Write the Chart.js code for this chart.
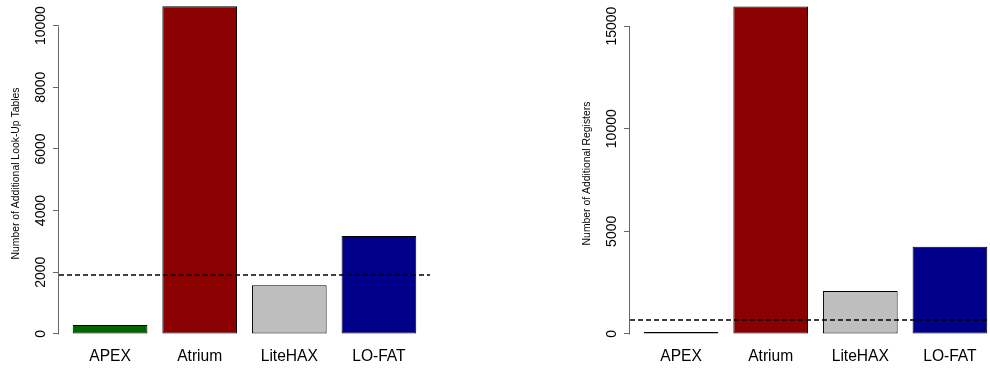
<!DOCTYPE html>
<html><head><meta charset="utf-8">
<script src="https://cdn.jsdelivr.net/npm/chart.js@4.4.0/dist/chart.umd.min.js"></script>
<style>
html,body{margin:0;padding:0;background:#fff;overflow:hidden;width:990px;height:368px;}
#wrap{position:relative;width:990px;height:368px;overflow:hidden;background:#fff;}
.box{position:absolute;top:0;width:495px;height:368px;}
canvas{display:block;}
</style></head><body>
<div id="wrap">
<div class="box" style="left:0"><canvas id="c1" width="495" height="368"></canvas></div>
<div class="box" style="left:571px"><canvas id="c2" width="495" height="368"></canvas></div>
</div>
<script>
// ---- data ----
const categories = ['APEX', 'Atrium', 'LiteHAX', 'LO-FAT'];
const lutValues = [290, 10630, 1580, 3175];
const regValues = [90, 15960, 2090, 4250];
const lutThreshold = 1900;
const regThreshold = 660;
const lutTicks = [0, 2000, 4000, 6000, 8000, 10000];
const regTicks = [0, 5000, 10000, 15000];
const lutTitle = 'Number of Additional Look-Up Tables';
const regTitle = 'Number of Additional Registers';
const barColors = ['#006400', '#8B0000', '#BEBEBE', '#00008B'];

Chart.defaults.font.family = "'Liberation Sans', Arial, Helvetica, sans-serif";
Chart.defaults.color = '#000';

const rAxisPlugin = {
  id: 'rAxis',
  afterDraw(chart, args, opts) {
    const ctx = chart.ctx, ys = chart.scales.y, area = chart.chartArea;
    const t = ys.ticks;
    ctx.save();
    // axis line spanning first to last tick
    ctx.strokeStyle = '#666';
    ctx.lineWidth = 1;
    const ax = Math.round(area.left) - 0.5;
    ctx.beginPath();
    ctx.moveTo(ax, Math.round(ys.getPixelForValue(t[0].value)) + 0.5);
    ctx.lineTo(ax, Math.round(ys.getPixelForValue(t[t.length - 1].value)) + 0.5);
    ctx.stroke();
    // rotated tick labels
    ctx.fillStyle = '#000';
    ctx.font = "14px 'Liberation Sans', Arial, sans-serif";
    ctx.textAlign = 'center';
    ctx.textBaseline = 'middle';
    t.forEach(tk => {
      ctx.save();
      ctx.translate(area.left - 17.5, ys.getPixelForValue(tk.value));
      ctx.rotate(-Math.PI / 2);
      ctx.fillText(String(tk.value), 0, 0);
      ctx.restore();
    });
    // dashed reference line
    const ty = Math.round(ys.getPixelForValue(opts.threshold));
    ctx.strokeStyle = '#000';
    ctx.lineWidth = 1.4;
    ctx.setLineDash([5, 3]);
    ctx.beginPath();
    ctx.moveTo(area.left, ty);
    ctx.lineTo(area.right, ty);
    ctx.stroke();
    ctx.restore();
  }
};

function makeChart(id, values, threshold, tickVals, title, yMin, yMax) {
  return new Chart(document.getElementById(id), {
    type: 'bar',
    data: {
      datasets: [{
        data: values.map((v, i) => ({ x: i, y: v })),
        backgroundColor: barColors,
        borderColor: '#000',
        borderWidth: 1,
        borderSkipped: false,
        categoryPercentage: 1,
        barPercentage: 1 / 1.2
      }]
    },
    options: {
      responsive: false,
      animation: false,
      devicePixelRatio: 1,
      layout: { padding: { left: 0, right: 65, top: 0, bottom: 0 } },
      plugins: {
        legend: { display: false },
        tooltip: { enabled: false },
        rAxis: { threshold: threshold }
      },
      scales: {
        x: {
          type: 'linear',
          min: -0.57,
          max: 3.57,
          offset: false,
          grid: { display: false, offset: false, drawTicks: false, tickLength: 0 },
          border: { display: false },
          afterBuildTicks: s => { s.ticks = categories.map((c, i) => ({ value: i })); },
          afterFit: s => { s.height = 21; },
          ticks: {
            autoSkip: false,
            maxRotation: 0,
            minRotation: 0,
            padding: 0,
            font: { size: 15.6 },
            color: '#000',
            callback: v => categories[v]
          }
        },
        y: {
          type: 'linear',
          min: yMin,
          max: yMax,
          afterBuildTicks: s => { s.ticks = tickVals.map(v => ({ value: v })); },
          afterFit: s => { s.width = 59; },
          grid: { display: true, drawOnChartArea: false, drawTicks: true, tickLength: 6, color: '#666' },
          border: { display: false },
          ticks: { display: false },
          title: {
            display: true,
            text: title,
            font: { size: 10.4 },
            color: '#000',
            padding: { top: 9.5, bottom: 0 }
          }
        }
      }
    },
    plugins: [rAxisPlugin]
  });
}

makeChart('c1', lutValues, lutThreshold, lutTicks, lutTitle, -425, 10830);
makeChart('c2', regValues, regThreshold, regTicks, regTitle, -638, 16272);
</script>
</body></html>
